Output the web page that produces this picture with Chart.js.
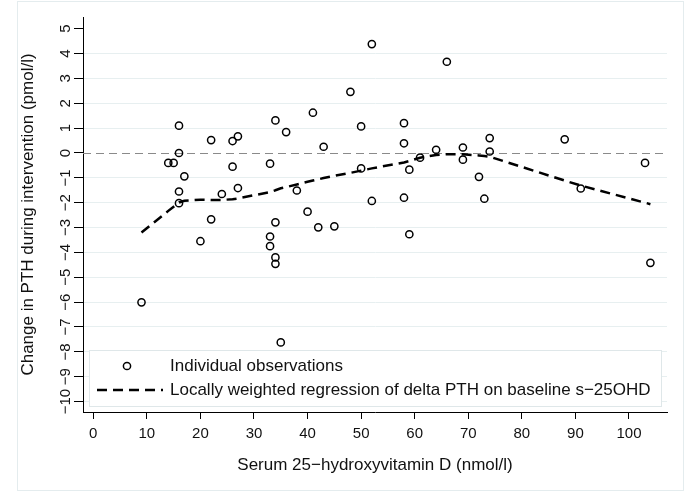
<!DOCTYPE html>
<html lang="en">
<head>
<meta charset="UTF-8">
<title>Change in PTH by baseline serum 25OHD</title>
<script src="https://cdn.jsdelivr.net/npm/chart.js"></script>
<style>
  html, body { margin: 0; padding: 0; background: #fff; }
  #chart { display: block; }
</style>
</head>
<body>
<canvas id="chart" width="685" height="498"></canvas>
<script>
// individual observations: baseline s-25OHD (nmol/l) and change in PTH (pmol/l)
const obsX = [9, 14, 15, 16, 16, 16, 16, 17, 20, 22, 22, 24, 26, 26, 27, 27,
              33, 33, 33, 34, 34, 34, 34, 35, 36, 38, 40, 41, 42, 43, 45, 48,
              50, 50, 52, 52, 58, 58, 58, 59, 59, 61, 64, 66, 69, 69, 72, 73,
              74, 74, 88, 91, 103, 104];
const obsY = [-6.01, -0.40, -0.40, 1.10, 0.00, -1.55, -2.02, -0.94, -3.55, 0.52, -2.67, -1.65, 0.48, -0.55, 0.67, -1.41,
              -0.43, -3.36, -3.75, 1.31, -2.79, -4.20, -4.46, -7.62, 0.84, -1.51, -2.36, 1.62, -2.99, 0.25, -2.95, 2.46,
              1.07, -0.62, 4.38, -1.93, 1.20, 0.39, -1.80, -0.67, -3.27, -0.19, 0.13, 3.67, 0.22, -0.27, -0.96, -1.84,
              0.60, 0.06, 0.55, -1.43, -0.40, -4.42];

// lowess fit, read at the observed x values
const fitX = [9, 14, 15, 16, 17, 20, 22, 24, 26, 27, 33, 34, 35, 36, 38, 40, 41, 42, 43, 45,
              48, 50, 52, 58, 59, 61, 64, 66, 69, 72, 73, 74, 88, 91, 103, 104];
const fitY = [-3.20, -2.33, -2.16, -1.99, -1.92, -1.88, -1.89, -1.89, -1.86, -1.83, -1.57, -1.50, -1.42, -1.37, -1.27, -1.16, -1.11, -1.06, -1.01, -0.92,
              -0.80, -0.71, -0.62, -0.38, -0.32, -0.19, -0.08, -0.05, -0.05, -0.10, -0.12, -0.15, -1.11, -1.31, -2.00, -2.06];

const xTicks = [0, 10, 20, 30, 40, 50, 60, 70, 80, 90, 100];
const yTicks = [5, 4, 3, 2, 1, 0, -1, -2, -3, -4, -5, -6, -7, -8, -9, -10];

const xTitle = 'Serum 25\u2212hydroxyvitamin D (nmol/l)';
const yTitle = 'Change in PTH during intervention (pmol/l)';
const obsLabel = 'Individual observations';
const fitLabel = 'Locally weighted regression of delta PTH on baseline s\u221225OHD';

const FONT = 'Liberation Sans, Arial, Helvetica, sans-serif';
const INK = '#111';
const fmt = v => (v < 0 ? '\u2212' + Math.abs(v) : String(v));

// light outer frame of the graph region
const frame = {
  id: 'frame',
  beforeDraw(chart) {
    const c = chart.ctx;
    c.save();
    c.strokeStyle = '#e4ecee';
    c.lineWidth = 1;
    c.strokeRect(17.5, 1.5, 666, 489);
    c.restore();
  }
};

// dashed reference line at zero
const zeroLine = {
  id: 'zeroLine',
  beforeDatasetsDraw(chart) {
    const { ctx: c, chartArea: a, scales: { y } } = chart;
    const py = Math.round(y.getPixelForValue(0)) + 0.5;
    c.save();
    c.strokeStyle = '#8a8a8a';
    c.lineWidth = 1.2;
    c.setLineDash([8, 5]);
    c.beginPath();
    c.moveTo(a.left, py);
    c.lineTo(a.right, py);
    c.stroke();
    c.restore();
  }
};

// vertical y tick labels, like Stata draws them
const yLabels = {
  id: 'yLabels',
  afterDraw(chart) {
    const { ctx: c, scales: { y } } = chart;
    c.save();
    c.fillStyle = INK;
    c.font = '15px ' + FONT;
    c.textAlign = 'center';
    c.textBaseline = 'middle';
    yTicks.forEach(v => {
      c.save();
      c.translate(66, y.getPixelForValue(v));
      c.rotate(-Math.PI / 2);
      c.fillText(fmt(v), 0, 0);
      c.restore();
    });
    c.restore();
  }
};

// boxed legend inside the plot region
const boxLegend = {
  id: 'boxLegend',
  afterDraw(chart) {
    const c = chart.ctx;
    const ds = chart.data.datasets;
    c.save();
    c.fillStyle = '#fff';
    c.strokeStyle = '#dfe7e9';
    c.lineWidth = 1;
    c.fillRect(89.5, 350.5, 572, 56);
    c.strokeRect(89.5, 350.5, 572, 56);

    // marker row
    c.strokeStyle = ds[0].borderColor;
    c.lineWidth = ds[0].pointBorderWidth;
    c.beginPath();
    c.arc(127, 366, ds[0].pointRadius, 0, Math.PI * 2);
    c.stroke();

    // line row
    c.strokeStyle = ds[1].borderColor;
    c.lineWidth = ds[1].borderWidth;
    c.setLineDash(ds[1].borderDash);
    c.beginPath();
    c.moveTo(97, 390);
    c.lineTo(163, 390);
    c.stroke();
    c.setLineDash([]);

    c.fillStyle = INK;
    c.font = '17px ' + FONT;
    c.textAlign = 'left';
    c.textBaseline = 'middle';
    c.fillText(ds[0].label, 170, 366);
    c.fillText(ds[1].label, 170, 390);
    c.restore();
  }
};

const ctx = document.getElementById('chart').getContext('2d');
new Chart(ctx, {
  type: 'scatter',
  data: {
    datasets: [{
      label: obsLabel,
      data: obsX.map((x, i) => ({ x: x, y: obsY[i] })),
      pointStyle: 'circle',
      pointRadius: 3.6,
      pointBorderWidth: 1.5,
      borderColor: '#000',
      backgroundColor: 'rgba(0,0,0,0)',
      showLine: false
    }, {
      label: fitLabel,
      type: 'line',
      data: fitX.map((x, i) => ({ x: x, y: fitY[i] })),
      borderColor: '#000',
      borderWidth: 2.5,
      borderDash: [10, 6],
      pointRadius: 0,
      fill: false,
      tension: 0
    }]
  },
  options: {
    responsive: false,
    animation: false,
    layout: { padding: { left: 0, top: 17, right: 18, bottom: 0 } },
    plugins: {
      legend: { display: false },
      tooltip: { enabled: false }
    },
    scales: {
      x: {
        type: 'linear',
        min: -1.92,
        max: 107.1,
        afterBuildTicks: s => { s.ticks = xTicks.map(v => ({ value: v })); },
        afterFit: s => { s.height = 86; },
        grid: { drawOnChartArea: false, tickLength: 7, tickColor: '#000' },
        border: { color: '#000', width: 1 },
        ticks: {
          color: INK,
          font: { family: FONT, size: 15 },
          padding: 6,
          maxRotation: 0,
          autoSkip: false
        },
        title: {
          display: true,
          text: xTitle,
          color: INK,
          font: { family: FONT, size: 17 },
          padding: { top: 0, bottom: 22 }
        }
      },
      y: {
        type: 'linear',
        min: -10.42,
        max: 5.47,
        afterBuildTicks: s => { s.ticks = yTicks.map(v => ({ value: v })); },
        afterFit: s => { s.width = 83; },
        grid: {
          color: c => (c.tick && (c.tick.value === 0 || c.tick.value === 5)) ? 'rgba(0,0,0,0)' : '#e7eff0',
          tickColor: '#000',
          tickLength: 9
        },
        border: { color: '#000', width: 1 },
        ticks: { display: false },
        title: {
          display: true,
          text: yTitle,
          color: INK,
          font: { family: FONT, size: 17 },
          padding: { top: 18, bottom: 0 }
        }
      }
    }
  },
  plugins: [frame, zeroLine, yLabels, boxLegend]
});
</script>
</body>
</html>
